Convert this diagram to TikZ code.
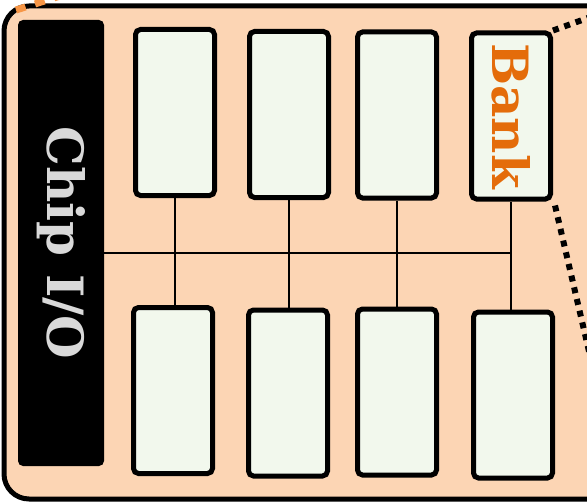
\documentclass[tikz,border=0pt]{standalone}
\usepackage{fontspec}
\setmainfont{DejaVu Serif}
\usepackage{xcolor}
\definecolor{chipfill}{RGB}{252,213,180}
\definecolor{bankfill}{RGB}{242,248,237}
\definecolor{banktext}{RGB}{228,108,10}
\definecolor{zoomline}{RGB}{247,150,70}
\definecolor{iotext}{RGB}{217,217,217}

\tikzset{
  bank/.style={draw=black, fill=bankfill, line width=5pt, rounded corners=5pt,
    minimum width=79pt, minimum height=166pt, inner sep=0pt},
  bus/.style={line width=2pt},
}

\begin{document}
\begin{tikzpicture}[x=1pt, y=-1pt]
  \useasboundingbox (0,0) rectangle (587,503);
  \clip (0,0) rectangle (587,503);

  % Chip outline
  \draw[line width=5pt, fill=chipfill, rounded corners=25pt] (4,6) rectangle (650,499);

  % Chip I/O
  \node[fill=black, rounded corners=5pt, minimum width=86pt, minimum height=446pt,
        inner sep=0pt] (io) at (61,243) {};
  \node[rotate=-90, text=iotext, font=\fontsize{50}{50}\selectfont\bfseries] at (io) {Chip I/O};

  % Banks, top row
  \node[bank] (t1) at (175,112.5) {};
  \node[bank] (t2) at (289,114.5) {};
  \node[bank] (t3) at (397,115) {};
  \node[bank] (t4) at (511,116) {};
  % Banks, bottom row
  \node[bank] (b1) at (173,390.5) {};
  \node[bank] (b2) at (288,393) {};
  \node[bank] (b3) at (397,392) {};
  \node[bank] (b4) at (513,395) {};

  \node[rotate=-90, text=banktext, font=\fontsize{50}{50}\selectfont\bfseries] at (t4) {Bank};

  % Bus
  \coordinate (busend) at (t4.south |- 0,253);
  \draw[bus] (io.east |- busend) -- (busend);
  \foreach \i in {1,...,4} {
    \draw[bus] (t\i.south) -- (t\i.south |- b\i.north);
  }

  % Zoom lines
  \coordinate (zl) at (82,-11);
  \coordinate (zr) at (610,10);
  \coordinate (zs) at (605,420);
  \draw[zoomline, line width=7pt, dash pattern=on 10pt off 10pt] (16,10) -- (zl);
  \draw[line width=6pt, dash pattern=on 6pt off 6pt] (t4.north east) -- (zr);
  \draw[line width=6pt, dash pattern=on 6pt off 6pt] (t4.south east) ++(2,4) -- (zs);
\end{tikzpicture}
\end{document}
